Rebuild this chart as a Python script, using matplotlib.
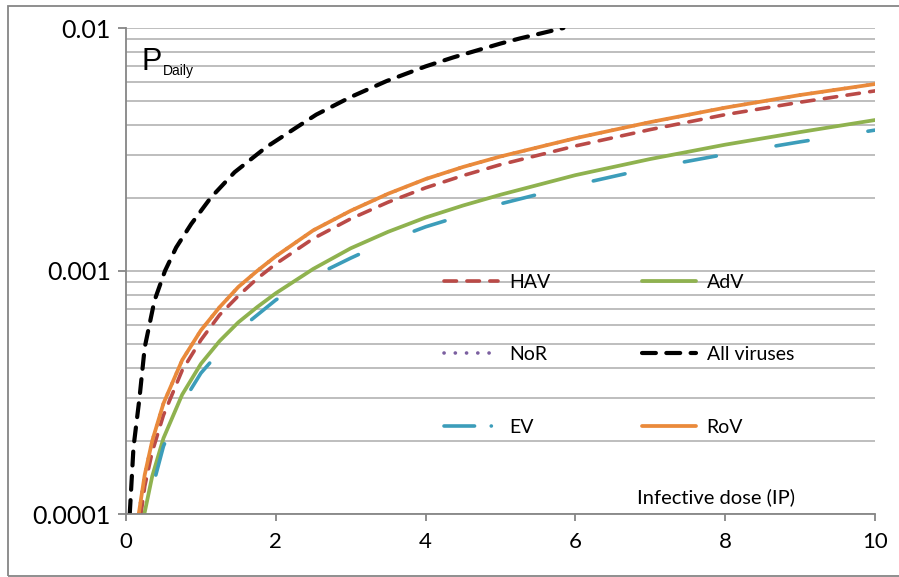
import matplotlib.pyplot as plt
from matplotlib.lines import Line2D
from matplotlib.patches import Rectangle
from matplotlib.ticker import FixedLocator, FixedFormatter, NullFormatter

plt.rcParams['font.family'] = ['Lato', 'DejaVu Sans']
plt.rcParams['lines.scale_dashes'] = False

# daily infection probability vs infective dose
hav_x = [0.2, 0.25, 0.35, 0.5, 0.75, 1, 1.25, 1.5, 1.75, 2, 2.5, 3, 3.5, 4, 4.5,
         5, 6, 7, 8, 9, 10]
hav_y = [1.0e-4, 1.3e-4, 1.8e-4, 2.55e-4, 3.9e-4, 5.2e-4, 6.6e-4, 7.9e-4, 9.3e-4,
         1.07e-3, 1.36e-3, 1.64e-3, 1.92e-3, 2.2e-3, 2.47e-3, 2.74e-3, 3.27e-3,
         3.82e-3, 4.4e-3, 4.95e-3, 5.51e-3]

adv_x = [0.245, 0.35, 0.5, 0.75, 1, 1.25, 1.5, 1.75, 2, 2.5, 3, 3.5, 4, 4.5,
         5, 6, 7, 8, 9, 10]
adv_y = [1.0e-4, 1.43e-4, 2.05e-4, 3.1e-4, 4.15e-4, 5.15e-4, 6.15e-4, 7.1e-4,
         8.1e-4, 1.02e-3, 1.24e-3, 1.45e-3, 1.66e-3, 1.86e-3, 2.06e-3, 2.48e-3,
         2.89e-3, 3.31e-3, 3.73e-3, 4.18e-3]

# NoR is not visible in the original: it sits under RoV
nor_x = [0.17, 0.25, 0.35, 0.5, 0.75, 1, 1.25, 1.5, 1.75, 2, 2.5, 3, 3.5, 4, 4.5,
         5, 6, 7, 8, 9, 10]
nor_y = [1.0e-4, 1.45e-4, 2.0e-4, 2.85e-4, 4.3e-4, 5.7e-4, 7.1e-4, 8.6e-4, 1.0e-3,
         1.15e-3, 1.47e-3, 1.77e-3, 2.08e-3, 2.39e-3, 2.68e-3, 2.96e-3, 3.52e-3,
         4.1e-3, 4.7e-3, 5.3e-3, 5.88e-3]

all_x = [0.05, 0.1, 0.18, 0.25, 0.38, 0.52, 0.67, 0.87, 1.13, 1.45, 1.87, 2.31,
         2.54, 3.0, 3.48, 4.0, 4.37, 5.0, 5.26, 5.84]
all_y = [1.0e-4, 1.88e-4, 3.0e-4, 4.85e-4, 7.55e-4, 1.0e-3, 1.25e-3, 1.56e-3,
         2.0e-3, 2.55e-3, 3.23e-3, 3.96e-3, 4.4e-3, 5.2e-3, 6.05e-3, 6.95e-3,
         7.57e-3, 8.63e-3, 9.06e-3, 1.0e-2]

ev_x = [0.26, 0.5, 0.75, 1, 1.5, 2, 2.5, 3, 3.5, 4, 5, 6, 7, 8, 9, 10]
ev_y = [1.0e-4, 1.9e-4, 2.85e-4, 3.8e-4, 5.7e-4, 7.6e-4, 9.5e-4, 1.13e-3, 1.33e-3,
        1.52e-3, 1.89e-3, 2.26e-3, 2.65e-3, 3.02e-3, 3.4e-3, 3.8e-3]

rov_x = [0.17, 0.25, 0.35, 0.5, 0.75, 1, 1.25, 1.5, 1.75, 2, 2.5, 3, 3.5, 4, 4.5,
         5, 6, 7, 8, 9, 10]
rov_y = [1.0e-4, 1.45e-4, 2.0e-4, 2.85e-4, 4.3e-4, 5.7e-4, 7.1e-4, 8.6e-4, 1.0e-3,
         1.15e-3, 1.47e-3, 1.77e-3, 2.08e-3, 2.39e-3, 2.68e-3, 2.96e-3, 3.52e-3,
         4.1e-3, 4.7e-3, 5.3e-3, 5.88e-3]

x_ticks = [0, 2, 4, 6, 8, 10]
y_ticks = [1e-4, 1e-3, 1e-2]
y_labels = ['0.0001', '0.001', '0.01']
y_minor = [m * 10.0 ** e for e in (-4, -3) for m in range(2, 10)]

W, H = 899, 577
fig = plt.figure(figsize=(W / 100, H / 100), dpi=100)
ax = fig.add_axes([126 / W, 1 - 514 / H, (875 - 126) / W, (514 - 28) / H])

ax.set_yscale('log')
ax.set_xlim(0, 10)
ax.set_ylim(1e-4, 1e-2)

# Excel series order: HAV, AdV, NoR, All viruses, EV, RoV
kw = dict(solid_capstyle='round', dash_capstyle='round')
l_hav, = ax.plot(hav_x, hav_y, color='#BA4A47', lw=2.6, ls=(0, (9, 7.5)), label='HAV', **kw)
l_adv, = ax.plot(adv_x, adv_y, color='#8FB24F', lw=2.7, label='AdV', **kw)
l_nor, = ax.plot(nor_x, nor_y, color='#7B5FA0', lw=2.6, ls=(0, (0.1, 8)), label='NoR', **kw)
l_all, = ax.plot(all_x, all_y, color='black', lw=3.0, ls=(0, (10, 7.5)), label='All viruses', **kw)
l_ev, = ax.plot(ev_x, ev_y, color='#3C9DBA', lw=2.6, ls=(38, (23.4, 43.6)), **kw)
l_rov, = ax.plot(rov_x, rov_y, color='#EA8A3B', lw=2.7, label='RoV', **kw)

# legend sample for EV shows the long-dash-dot pattern
ev_handle = Line2D([], [], color='#3C9DBA', lw=2.6, dash_capstyle='round',
                   ls=(0, (22, 12, 0.1, 12)), label='EV')

ax.yaxis.set_major_locator(FixedLocator(y_ticks))
ax.yaxis.set_major_formatter(FixedFormatter(y_labels))
ax.yaxis.set_minor_locator(FixedLocator(y_minor))
ax.yaxis.set_minor_formatter(NullFormatter())
ax.set_xticks(x_ticks)
ax.set_xticklabels([str(t) for t in x_ticks])

ax.grid(True, axis='y', which='both', color='#BEBEBE', lw=1.4)
ax.set_axisbelow(True)
for s in ('top', 'right'):
    ax.spines[s].set_visible(False)
for s in ('left', 'bottom'):
    ax.spines[s].set_color('#868686')
    ax.spines[s].set_linewidth(1.3)
ax.tick_params(axis='y', which='major', length=6, width=1.3, color='#868686',
               labelsize=18, pad=5)
ax.tick_params(axis='y', which='minor', length=0)
ax.tick_params(axis='x', length=5, width=1.3, color='#868686', labelsize=16, pad=8)

ax.legend(handles=[l_hav, l_nor, ev_handle, l_adv, l_all, l_rov], ncol=2,
          loc='upper left', bbox_to_anchor=(434 / W, 1 - 264 / H),
          bbox_transform=fig.transFigure, frameon=False, fontsize=14,
          borderpad=0, handlelength=2.8, handletextpad=0.55,
          columnspacing=4.7, labelspacing=2.85)

fig.text(637 / W, 1 - 497 / H, 'Infective dose (IP)', fontsize=14.5, va='center')
fig.text(142 / W, 1 - 70 / H, 'P', fontsize=22, family='Liberation Sans', va='baseline')
fig.text(163 / W, 1 - 75 / H, 'Daily', fontsize=10, family='Liberation Sans', va='baseline')

# outer chart frame
fig.patches.append(Rectangle((8 / W, 1 / H), 1.2, 1 - 7 / H, transform=fig.transFigure,
                             fill=False, edgecolor='#868686', lw=1.3))

fig.savefig('out.png', dpi=100)
